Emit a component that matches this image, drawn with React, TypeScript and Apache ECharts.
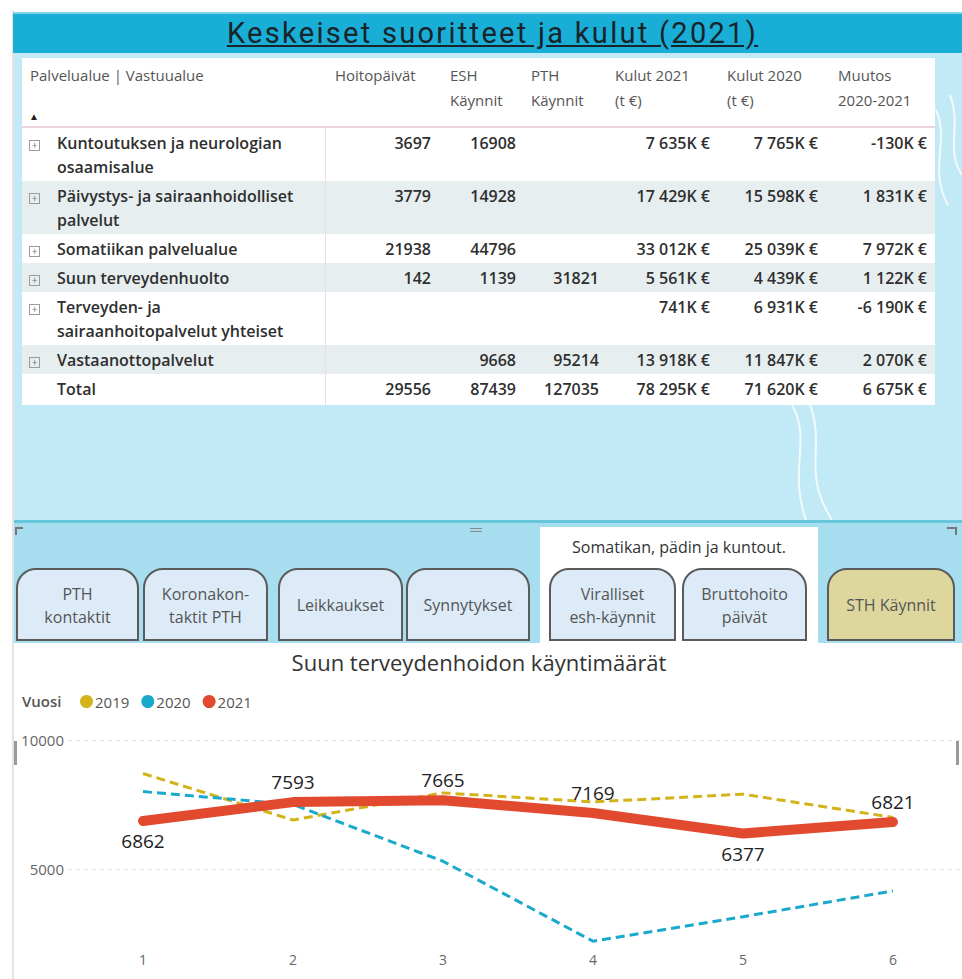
import React, { useEffect, useRef } from "react";
import * as echarts from "echarts";

// ---------- table data ----------
const areaNames = [
  "Kuntoutuksen ja neurologian\nosaamisalue",
  "Päivystys- ja sairaanhoidolliset\npalvelut",
  "Somatiikan palvelualue",
  "Suun terveydenhuolto",
  "Terveyden- ja\nsairaanhoitopalvelut yhteiset",
  "Vastaanottopalvelut",
];
const hoitopaivat = [3697, 3779, 21938, 142, null, null];
const eshKaynnit = [16908, 14928, 44796, 1139, null, 9668];
const pthKaynnit = [null, null, null, 31821, null, 95214];
const kulut2021 = [7635, 17429, 33012, 5561, 741, 13918];
const kulut2020 = [7765, 15598, 25039, 4439, 6931, 11847];
const muutos = [-130, 1831, 7972, 1122, -6190, 2070];
const totalRow = [29556, 87439, 127035, 78295, 71620, 6675];
const headerLabels = [
  "Hoitopäivät",
  "ESH\nKäynnit",
  "PTH\nKäynnit",
  "Kulut 2021\n(t €)",
  "Kulut 2020\n(t €)",
  "Muutos\n2020-2021",
];
const tabLabels = [
  "PTH\nkontaktit",
  "Koronakon-\ntaktit PTH",
  "Leikkaukset",
  "Synnytykset",
  "Viralliset\nesh-käynnit",
  "Bruttohoito\npäivät",
  "STH Käynnit",
];

// ---------- chart data ----------
const months = ["1", "2", "3", "4", "5", "6"];
const visits2019 = [8700, 6900, 7950, 7600, 7900, 7000];
const visits2020 = [8000, 7500, 5300, 2200, 3150, 4150];
const visits2021 = [6862, 7593, 7665, 7169, 6377, 6821];
const labelBelow2021 = [true, false, false, false, true, false];

const FONT = "'Open Sans', 'Noto Sans', sans-serif";

const colLeft = [325, 431, 516, 599, 710, 818];
const colRight = [431, 516, 599, 710, 818, 927];
const headerX = [335, 450, 531, 615, 727, 838];
const tabX = [16, 143, 278, 406, 549, 682, 827];
const tabW = [123, 125, 125, 124, 127, 125, 128];

const num = (n: number) => String(Math.abs(n)).replace(/\B(?=(\d{3})+(?!\d))/g, " ");
const plain = (n: number | null) => (n == null ? "" : String(n));
const euro = (n: number | null) => (n == null ? "" : (n < 0 ? "-" : "") + num(n) + "K €");

function buildOption(): any {
  return {
    animation: false,
    backgroundColor: "#ffffff",
    textStyle: { fontFamily: FONT },
    title: {
      text: "Suun terveydenhoidon käyntimäärät",
      left: 460,
      textAlign: "center",
      top: 3,
      textStyle: { fontSize: 22, fontWeight: "normal", color: "#333", fontFamily: FONT },
    },
    graphic: [
      {
        type: "text",
        left: 8,
        top: 50,
        style: { text: "Vuosi", fontSize: 15, fontWeight: 600, fill: "#555", fontFamily: FONT },
      },
      { type: "rect", left: 0, top: 98, shape: { width: 3, height: 24 }, style: { fill: "#9a9a9a" } },
      { type: "rect", right: 3, top: 98, shape: { width: 3, height: 24 }, style: { fill: "#9a9a9a" } },
    ],
    legend: {
      left: 61,
      top: 46,
      icon: "circle",
      itemWidth: 13,
      itemHeight: 13,
      itemGap: 12,
      data: ["2019", "2020", "2021"],
      textStyle: { fontSize: 15, color: "#555", padding: [0, 0, 0, -3], fontFamily: FONT },
    },
    grid: { left: 54, top: 97, width: 900, height: 258, containLabel: false, outerBoundsMode: "none" },
    xAxis: {
      type: "category",
      data: months,
      boundaryGap: true,
      offset: -54,
      axisLine: { show: false },
      axisTick: { show: false },
      axisLabel: { fontSize: 14, color: "#666", margin: 8, fontFamily: FONT },
    },
    yAxis: {
      type: "value",
      min: 0,
      max: 10000,
      interval: 5000,
      axisLine: { show: false },
      axisTick: { show: false },
      axisLabel: {
        fontSize: 15,
        color: "#666",
        margin: 4,
        fontFamily: FONT,
        formatter: (v: number) => (v === 0 ? "" : String(v)),
      },
      splitLine: { lineStyle: { type: [4, 4], color: "#e2e2e2", width: 1 } },
    },
    series: [
      {
        name: "2019",
        type: "line",
        data: visits2019,
        showSymbol: false,
        color: "#d4b31a",
        lineStyle: { width: 3, type: [9, 5], color: "#d4b31a" },
        z: 2,
      },
      {
        name: "2020",
        type: "line",
        data: visits2020,
        showSymbol: false,
        color: "#1ba9cb",
        lineStyle: { width: 3, type: [9, 5], color: "#1ba9cb" },
        z: 3,
      },
      {
        name: "2021",
        type: "line",
        data: visits2021.map((v, i) => ({
          value: v,
          label: { position: labelBelow2021[i] ? "bottom" : "top" },
        })),
        showSymbol: true,
        symbol: "circle",
        symbolSize: 2,
        color: "#e14a2e",
        itemStyle: { color: "#e14a2e" },
        lineStyle: { width: 10, color: "#e14a2e", cap: "round", join: "round" },
        label: { show: true, distance: 10, fontSize: 19, color: "#222", fontFamily: FONT },
        z: 4,
      },
    ],
  };
}

function PlusBox() {
  return (
    <div
      style={{
        position: "absolute",
        left: 7,
        top: 9,
        width: 9,
        height: 9,
        border: "1px solid #9a9a9a",
        fontSize: 10,
        lineHeight: "9px",
        textAlign: "center",
        color: "#777",
        fontWeight: 400,
      }}
    >
      +
    </div>
  );
}

export default function App() {
  const ref = useRef<HTMLDivElement>(null);
  useEffect(() => {
    const chart = echarts.init(ref.current!, null, { renderer: "svg" });
    chart.setOption(buildOption());
    return () => chart.dispose();
  }, []);

  const rows = areaNames.map((name, i) => ({
    name,
    cells: [
      plain(hoitopaivat[i]),
      plain(eshKaynnit[i]),
      plain(pthKaynnit[i]),
      euro(kulut2021[i]),
      euro(kulut2020[i]),
      euro(muutos[i]),
    ],
    plus: true,
  }));
  rows.push({
    name: "Total",
    cells: [
      plain(totalRow[0]),
      plain(totalRow[1]),
      plain(totalRow[2]),
      euro(totalRow[3]),
      euro(totalRow[4]),
      euro(totalRow[5]),
    ],
    plus: false,
  });

  return (
    <div
      style={{
        position: "absolute",
        left: 0,
        top: 0,
        width: 962,
        height: 979,
        overflow: "hidden",
        background: "#ffffff",
        fontFamily: FONT,
      }}
    >
      {/* left frame line */}
      <div style={{ position: "absolute", left: 12, top: 10, width: 2, height: 969, background: "#e4e4e4" }} />

      {/* title bar */}
      <div
        style={{
          position: "absolute",
          left: 13,
          top: 12,
          width: 949,
          height: 41,
          background: "#19aed6",
          borderTop: "2px solid #7fd3ea",
          boxSizing: "border-box",
          textAlign: "center",
        }}
      >
        <span
          style={{
            display: "inline-block",
            marginLeft: 10,
            fontFamily: "Roboto, 'Open Sans', sans-serif",
            fontSize: 29,
            lineHeight: "38px",
            color: "#18232a",
            textDecoration: "underline",
            letterSpacing: 2.3,
          }}
        >
          Keskeiset suoritteet ja kulut (2021)
        </span>
      </div>

      {/* light blue panel */}
      <div style={{ position: "absolute", left: 14, top: 53, width: 948, height: 467, background: "#c2e9f6" }} />
      <svg style={{ position: "absolute", left: 0, top: 0 }} width={962} height={979}>
        <g fill="none" stroke="#ffffff" strokeWidth={2} opacity={0.8}>
          <path d="M 792 405 C 812 440, 788 470, 806 520" />
          <path d="M 808 400 C 828 445, 800 470, 832 520" />
          <path d="M 936 110 C 950 140, 928 170, 948 205" />
          <path d="M 950 95 C 962 125, 945 150, 962 175" />
          <path d="M 20 548 C 60 560, 110 572, 160 566" />
          <path d="M 300 560 C 380 540, 460 538, 540 545" />
        </g>
      </svg>

      {/* table */}
      <div style={{ position: "absolute", left: 22, top: 58, width: 913, height: 347, background: "#ffffff" }} />
      <div style={{ position: "absolute", left: 30, top: 63, fontSize: 15, lineHeight: "25px", color: "#555" }}>
        Palvelualue | Vastuualue
      </div>
      {headerLabels.map((h, i) => (
        <div
          key={h}
          style={{
            position: "absolute",
            left: headerX[i],
            top: 63,
            fontSize: 15,
            lineHeight: "25px",
            color: "#555",
            whiteSpace: "pre-line",
          }}
        >
          {h}
        </div>
      ))}
      <div style={{ position: "absolute", left: 29, top: 109, fontSize: 10, color: "#222" }}>▲</div>
      <div style={{ position: "absolute", left: 22, top: 126, width: 913, height: 2, background: "#efd3e0" }} />

      <div style={{ position: "absolute", left: 22, top: 128, width: 913 }}>
        {rows.map((r, i) => (
          <div
            key={r.name}
            style={{
              display: "flex",
              background: i % 2 === 1 ? "#e7eef0" : "#ffffff",
              lineHeight: "24px",
              padding: "3px 0 2px 0",
              fontSize: 16,
              fontWeight: 600,
              color: "#2f2f2f",
            }}
          >
            <div style={{ position: "relative", width: 303, paddingLeft: 35, boxSizing: "border-box", whiteSpace: "pre-line" }}>
              {r.plus ? <PlusBox /> : null}
              {r.name}
            </div>
            {r.cells.map((c, j) => (
              <div key={j} style={{ width: colRight[j] - colLeft[j], textAlign: "right", whiteSpace: "nowrap" }}>
                {c}
              </div>
            ))}
          </div>
        ))}
      </div>
      <div style={{ position: "absolute", left: 325, top: 128, width: 1, height: 277, background: "#efdbe5" }} />

      {/* separator + lower strip */}
      <div style={{ position: "absolute", left: 14, top: 520, width: 948, height: 3, background: "#66c6dc" }} />
      <div style={{ position: "absolute", left: 14, top: 523, width: 948, height: 120, background: "#a6def0" }} />
      <div style={{ position: "absolute", left: 540, top: 527, width: 278, height: 116, background: "#ffffff" }} />
      <div
        style={{ position: "absolute", left: 540, top: 536, width: 278, textAlign: "center", fontSize: 16, color: "#333" }}
      >
        Somatikan, pädin ja kuntout.
      </div>
      <div style={{ position: "absolute", left: 15, top: 527, width: 8, height: 2, background: "#777" }} />
      <div style={{ position: "absolute", left: 15, top: 527, width: 2, height: 8, background: "#777" }} />
      <div style={{ position: "absolute", left: 947, top: 527, width: 10, height: 2, background: "#777" }} />
      <div style={{ position: "absolute", left: 955, top: 527, width: 2, height: 8, background: "#777" }} />
      <div style={{ position: "absolute", left: 470, top: 528, width: 12, height: 1, background: "#888" }} />
      <div style={{ position: "absolute", left: 470, top: 531, width: 12, height: 1, background: "#888" }} />

      {tabLabels.map((t, i) => (
        <div
          key={t}
          style={{
            position: "absolute",
            left: tabX[i],
            top: 568,
            width: tabW[i],
            height: 73,
            boxSizing: "border-box",
            border: "2px solid #5b5b5b",
            borderRadius: "20px 20px 0 0",
            background: i === 6 ? "#ddd79e" : "#dcebf7",
            display: "flex",
            alignItems: "center",
            justifyContent: "center",
            textAlign: "center",
            whiteSpace: "pre-line",
            fontSize: 16,
            lineHeight: "23px",
            color: "#555",
            paddingTop: 2,
          }}
        >
          {t}
        </div>
      ))}

      {/* chart */}
      <div
        ref={ref}
        style={{ position: "absolute", left: 14, top: 643, width: 948, height: 336, overflow: "hidden" }}
      />
    </div>
  );
}
